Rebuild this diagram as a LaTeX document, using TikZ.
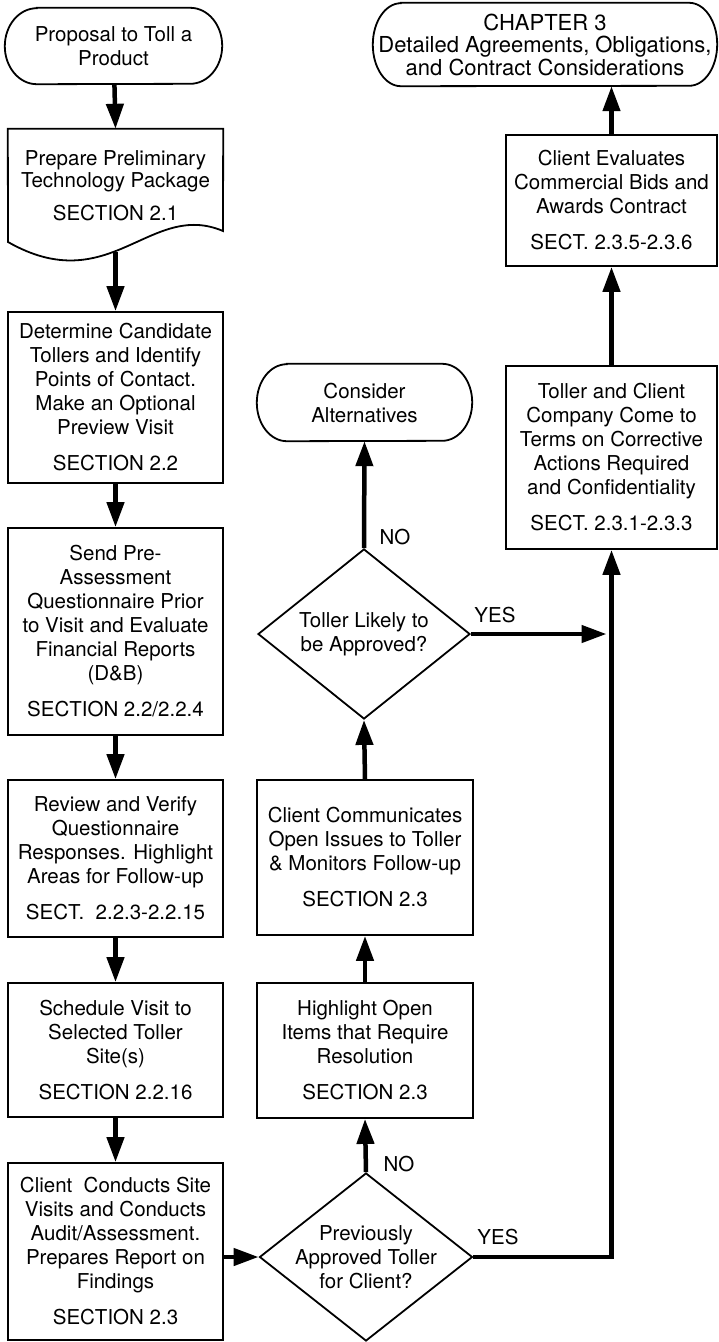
\documentclass[tikz,border=0pt]{standalone}
\usepackage{fontspec}
\setmainfont{TeX Gyre Heros}
\usetikzlibrary{arrows.meta,shapes.geometric,calc}

% outline of a terminal: straight top and bottom, half-ellipse ends
% #1 node name, #2 horizontal radius of the ends, #3 half the node height
\newcommand\termoutline[3]{%
  \draw[border] ([xshift=#2]#1.north west) -- ([xshift=-#2]#1.north east)
    arc[start angle=90,end angle=-90,x radius=#2,y radius=#3]
    -- ([xshift=#2]#1.south west)
    arc[start angle=270,end angle=90,x radius=#2,y radius=#3] -- cycle;}

\tikzset{
  txt/.style={font=\fontsize{20.5}{24}\selectfont, align=center, inner sep=0pt},
  border/.style={line width=1.8pt, line join=miter},
  box/.style={txt, draw, line width=1.8pt, rectangle},
  plainbox/.style={txt, rectangle},
  dia/.style={draw, shape=diamond, line width=1.8pt, inner sep=0pt,
    minimum width=213pt, minimum height=168pt},
  flow/.style={line width=4.5pt, -{Triangle[length=25pt,width=17pt]}},
  lbl/.style={txt}
}

\begin{document}
\begin{tikzpicture}[x=1pt,y=-1pt]
\useasboundingbox (0,0) rectangle (718,1342);
\fill[white] (0,0) rectangle (718,1342);

% ---- left column ----
\node[plainbox, minimum width=217pt, minimum height=76pt] (start) at (113.5,46)
  {Proposal to Toll a\\Product};
\termoutline{start}{32pt}{38pt}

\node[plainbox, minimum width=215pt, minimum height=114pt,
  font=\fontsize{20.5}{22}\selectfont] (prep) at (115.5,186)
  {Prepare Preliminary\\Technology Package\\[11pt]SECTION 2.1};
\draw[border] (prep.north west) -- (prep.north east) -- (223,231)
  .. controls (150,200) and (110,300) .. coordinate[pos=0.57] (prepwave) (8,242) -- cycle;

\node[box, minimum width=215pt, minimum height=171pt] (cand) at (115.5,397.5)
  {Determine Candidate\\Tollers and Identify\\Points of Contact.\\Make an Optional\\Preview Visit\\[12pt]SECTION 2.2};

\node[box, minimum width=215pt, minimum height=207pt] (quest) at (115.5,631.5)
  {Send Pre-\\Assessment\\Questionnaire Prior\\to Visit and Evaluate\\Financial Reports\\(D\&B)\\[12pt]SECTION 2.2/2.2.4};

\node[box, minimum width=215pt, minimum height=157pt] (review) at (115.5,858.5)
  {Review and Verify\\Questionnaire\\Responses. Highlight\\Areas for Follow-up\\[12pt]SECT.\ \ 2.2.3-2.2.15};

\node[box, minimum width=215pt, minimum height=134pt] (sched) at (115.5,1050)
  {Schedule Visit to\\Selected Toller\\Site(s)\\[12pt]SECTION 2.2.16};

\node[box, minimum width=215pt, minimum height=177pt] (audit) at (115.5,1251.5)
  {Client\ \ Conducts Site\\Visits and Conducts\\Audit/Assessment.\\Prepares Report on\\Findings\\[12pt]SECTION 2.3};

% ---- middle column ----
\node[dia, label={[txt]center:Previously\\Approved Toller\\for Client?}] (prev) at (366,1257) {};

\node[box, minimum width=216pt, minimum height=135pt] (high) at (365,1050.5)
  {Highlight Open\\Items that Require\\Resolution\\[12pt]SECTION 2.3};

\node[box, minimum width=216pt, minimum height=155pt] (comm) at (365,857.5)
  {Client Communicates\\Open Issues to Toller\\\& Monitors Follow-up\\[12pt]SECTION 2.3};

\node[dia, minimum width=212pt, minimum height=170pt,
  label={[txt]center:Toller Likely to\\be Approved?}] (likely) at (364,634) {};

\node[plainbox, minimum width=215pt, minimum height=77pt] (alt) at (364.5,402.5)
  {Consider\\Alternatives};
\termoutline{alt}{30pt}{38.5pt}

% ---- right column ----
\node[box, minimum width=211pt, minimum height=183pt] (terms) at (611.5,457.5)
  {Toller and Client\\Company Come to\\Terms on Corrective\\Actions Required\\and Confidentiality\\[12pt]SECT. 2.3.1-2.3.3};

\node[box, minimum width=211pt, minimum height=131pt] (bids) at (611.5,200.5)
  {Client Evaluates\\Commercial Bids and\\Awards Contract\\[12pt]SECT. 2.3.5-2.3.6};

\node[plainbox, minimum width=344pt, minimum height=83pt,
  font=\fontsize{22}{22.5}\selectfont] (chap) at (545,44.5)
  {CHAPTER 3\\Detailed Agreements, Obligations,\\and Contract Considerations};
\termoutline{chap}{28pt}{41.5pt}

% ---- connectors ----
\draw[flow] (start) -- (prep.north);
\draw[flow] (cand.north |- prepwave) -- (cand.north);
\draw[flow] (cand) -- (quest);
\draw[flow] (quest) -- (review);
\draw[flow] (review) -- (sched);
\draw[flow] (sched) -- (audit);
\draw[flow] (audit.east |- prev.west) -- (prev.west);

\draw[flow] (prev.north) -- (high.south);
\node[lbl] (no1) at (399,1164) {NO};
\draw[flow] (high) -- (comm);
\draw[flow] (comm.north) -- (likely.south);
\draw[flow] (likely.north) -- (alt.south);
\node[lbl] (no2) at (395,537) {NO};

\draw[flow] (prev.east) -- (prev.east -| terms.south) -- (terms.south);
\node[lbl] (yes1) at (498,1237) {YES};
\draw[flow, shorten >=5pt] (likely.east) -- (likely.east -| terms.south);
\node[lbl] (yes2) at (495,615) {YES};

\draw[flow] (terms) -- (bids);
\draw[flow] (bids.north) -- (bids.north |- chap.south);
\end{tikzpicture}
\end{document}
